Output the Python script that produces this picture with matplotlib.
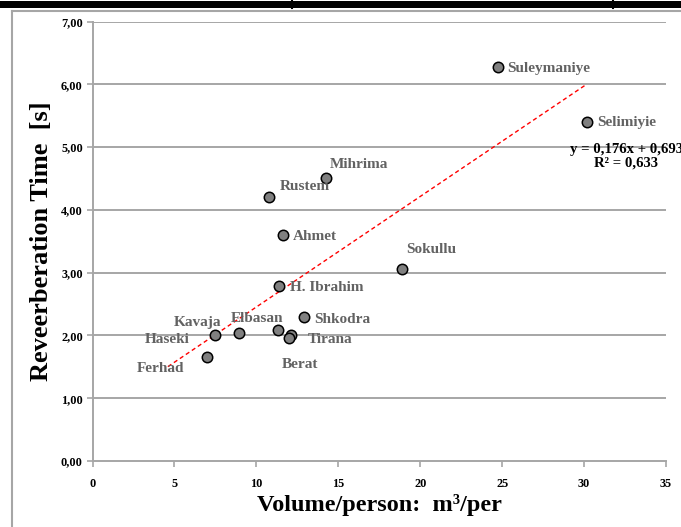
import matplotlib
matplotlib.use("Agg")
import matplotlib.pyplot as plt
from matplotlib.lines import Line2D
from matplotlib.patches import Rectangle
import numpy as np

# Mosques: volume per person vs. reverberation time
names = ["Suleymaniye", "Selimiyie", "Mihrima", "Rustem", "Ahmet", "Sokullu",
         "H. Ibrahim", "Shkodra", "Haseki", "Kavaja", "Elbasan", "Tirana",
         "Berat", "Ferhad"]
volume = [24.74, 30.18, 14.25, 10.77, 11.63, 18.89,
          11.38, 12.91, 7.49, 8.96, 11.34, 12.11,
          12.01, 7.00]
rt = [6.27, 5.40, 4.51, 4.20, 3.60, 3.06,
      2.79, 2.29, 2.01, 2.04, 2.09, 2.01,
      1.96, 1.65]

# Linear trend as reported on the chart
slope = 0.176
intercept = 0.693
r2 = 0.633
backward_forecast = 2.4

x_ticks = [0, 5, 10, 15, 20, 25, 30, 35]
y_ticks = [0, 1, 2, 3, 4, 5, 6, 7]

# label placement: (dx, dy) in pixels (dy downward), horizontal alignment
label_pos = {
    "Suleymaniye": (9, 1, "left"),
    "Selimiyie": (10, 1, "left"),
    "Mihrima": (4, -13, "left"),
    "Rustem": (11, -11, "left"),
    "Ahmet": (10, 2, "left"),
    "Sokullu": (4, -19, "left"),
    "H. Ibrahim": (11, 2, "left"),
    "Shkodra": (10, 2, "left"),
    "Haseki": (-26, 5, "right"),
    "Kavaja": (-18, -10, "right"),
    "Elbasan": (-48, -11, "left"),
    "Tirana": (17, 5, "left"),
    "Berat": (11, 27, "center"),
    "Ferhad": (-23, 11, "right"),
}

W, H = 681, 527
fig = plt.figure(figsize=(W / 100, H / 100), dpi=100)
serif = ["Liberation Serif", "DejaVu Serif"]

# page frame: black rule on top, gray border lines
fig.patches.append(Rectangle((0, 1 - 8 / H), 1, 7 / H, transform=fig.transFigure,
                             facecolor="black", edgecolor="none"))
for xp in (292, 613):
    fig.lines.append(Line2D([xp / W, xp / W], [1, 1 - 8 / H], transform=fig.transFigure,
                            color="black", lw=1.5))
fig.lines.append(Line2D([12 / W, 1], [1 - 10.5 / H, 1 - 10.5 / H], transform=fig.transFigure,
                        color="#a6a6a6", lw=1.5))
fig.lines.append(Line2D([12 / W, 12 / W], [0, 1 - 10.5 / H], transform=fig.transFigure,
                        color="#a6a6a6", lw=1.5))

left_px, right_px, top_px, bottom_px = 92.5, 666, 21.5, 461
ax = fig.add_axes([left_px / W, 1 - bottom_px / H,
                   (right_px - left_px) / W, (bottom_px - top_px) / H])
ax.set_xlim(0, 35)
ax.set_ylim(0, 7)

grid_c = "#a6a6a6"
for yv in y_ticks[1:]:
    ax.axhline(yv, color=grid_c, lw=1.4, zorder=1)
for s in ("top", "right"):
    ax.spines[s].set_visible(False)
for s in ("left", "bottom"):
    ax.spines[s].set_color(grid_c)
    ax.spines[s].set_linewidth(1.4)

ax.set_xticks(x_ticks)
ax.set_yticks(y_ticks)
ax.set_xticklabels([str(v) for v in x_ticks])
ax.set_yticklabels([f"{v:.2f}".replace(".", ",") for v in y_ticks])
ax.tick_params(axis="both", colors=grid_c, length=4, width=1.2)
ax.tick_params(axis="x", pad=8)
ax.tick_params(axis="y", pad=3)
for lab in ax.get_xticklabels() + ax.get_yticklabels():
    lab.set_family(serif)
    lab.set_fontweight("bold")
    lab.set_fontsize(8.8)
    lab.set_color("black")

# trend line
tx = np.array([min(volume) - backward_forecast, max(volume)])
ax.plot(tx, slope * tx + intercept, color="red", lw=1.0,
        linestyle=(0, (3, 2.2)), zorder=2)

# points
ax.plot(volume, rt, linestyle="none", marker="o", markersize=7.5,
        markerfacecolor="#808080", markeredgecolor="black",
        markeredgewidth=1.1, zorder=3)

for n, xv, yv in zip(names, volume, rt):
    dx, dy, ha = label_pos[n]
    ax.annotate(n, (xv, yv), xytext=(dx, -dy), textcoords="offset pixels",
                ha=ha, va="center", fontsize=11, fontweight="bold",
                family=serif, color="#626262", zorder=4)

eq = f"y = {slope:.3f}x + {intercept:.3f}".replace(".", ",")
r2t = f"R² = {r2:.3f}".replace(".", ",")
fig.text(626 / W, 1 - 156 / H, eq + "\n" + r2t, ha="center", va="center",
         multialignment="center", fontsize=10.6, fontweight="bold",
         family=serif, color="black", linespacing=1.1)

ax.set_xlabel("Volume/person:  m³/per", family=serif, fontweight="bold",
              fontsize=17.5, labelpad=3)
ax.set_ylabel("Reveerberation Time  [s]", family=serif, fontweight="bold",
              fontsize=19, labelpad=6)

fig.savefig("out.png", dpi=100)
